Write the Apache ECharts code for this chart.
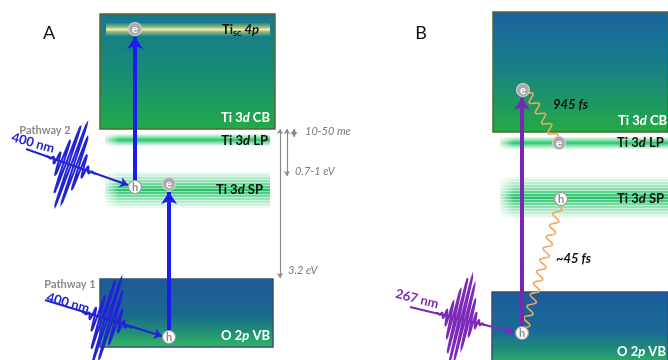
<!DOCTYPE html>
<html>
<head>
<meta charset="utf-8">
<script src="https://cdn.jsdelivr.net/npm/echarts@6/dist/echarts.min.js"></script>
<style>
  html, body { margin: 0; padding: 0; background: #fff; }
  #chart { width: 668px; height: 360px; }
</style>
</head>
<body>
<div id="chart"></div>
<script>
// diagram units = canvas pixels, y grows downward
const panelNames = ['A', 'B'];
const panelLabelPos = [[49, 33], [421, 33]];

// bands: [x0, yTop, x1, yBottom]
const cbBoxes = [[100, 14, 275, 129], [493, 12, 668, 132]];
const vbBoxes = [[100, 279, 273, 347], [492, 292, 668, 365]];
const scBands = [[106, 23, 270, 36]];
const lpBands = [[105, 134, 270, 146], [500, 137, 668, 149]];
const spBands = [[105, 172, 270, 208], [500, 177, 668, 218]];

// carriers
const electrons = [[135, 29], [169, 184], [523, 90], [559, 143]];
const holes = [[135, 187], [169, 337], [561, 199], [522, 333]];

// excitation arrows [x0, y0, x1, y1]
const blueJumps = [[135, 181, 135, 37], [169, 331, 169, 192]];
const violetJumps = [[522, 327, 522, 98]];

// light pulses: beam [x0, y0, x1, y1] and packet centre
const blueBeams = [[26, 149, 128, 185], [45, 300, 162, 336]];
const blueBeamCentres = [[71, 165], [107, 320]];
const violetBeams = [[410, 307, 514, 332]];
const violetBeamCentres = [[461, 319]];

// relaxation (wavy) paths
const relaxPaths = [[528, 93, 556, 139], [559, 206, 525, 328]];

// energy gaps [x, yTop, yBottom]
const gapArrows = [[280, 129, 278], [287, 129, 176], [294, 129, 137]];

const bandLabelsA = [
  [270, 118, 'Ti 3{i|d} CB', 'w'], [268, 141, 'Ti 3{i|d} LP', 'k'],
  [263, 190, 'Ti 3{i|d} SP', 'k'], [270, 336, 'O 2{i|p} VB', 'w']
];
const bandLabelsB = [
  [618, 121, 'Ti 3{i|d} CB', 'w'], [617, 143, 'Ti 3{i|d} LP', 'k'],
  [617, 199, 'Ti 3{i|d} SP', 'k'], [617, 352, 'O 2{i|p} VB', 'w']
];
const scLabel = [[259, 30, 'Ti{s|sc} {i|4p}', 'k']];
const gapLabels = [[305, 131, '10-50 me'], [295, 171, '0.7-1 eV'], [288, 270, '3.2 eV']];
const timeLabels = [[553, 105, '945 fs'], [556, 259, '~45 fs']];
const pathwayLabels = [[45, 130, 'Pathway 2'], [70, 284, 'Pathway 1']];
const blueNmLabels = [[33, 143, '400 nm'], [68, 303, '400 nm']];
const violetNmLabels = [[417, 299, '267 nm']];

const FONT = 'Lato, "Open Sans", sans-serif';
const chart = echarts.init(document.getElementById('chart'));

function boxSeries(data, stops, border) {
  return {
    type: 'custom', silent: true, z: 2,
    data: data,
    renderItem: (params, api) => {
      const p0 = api.coord([api.value(0), api.value(1)]);
      const p1 = api.coord([api.value(2), api.value(3)]);
      return {
        type: 'rect',
        shape: { x: p0[0], y: p0[1], width: p1[0] - p0[0], height: p1[1] - p0[1] },
        style: {
          fill: new echarts.graphic.LinearGradient(0, 0, 0, 1, stops[params.dataIndex]),
          stroke: border, lineWidth: 1.5
        }
      };
    }
  };
}

function glowSeries(data, color, core, striped, edgeFade) {
  return {
    type: 'custom', silent: true, z: 4,
    data: data,
    renderItem: (params, api) => {
      const p0 = api.coord([api.value(0), api.value(1)]);
      const p1 = api.coord([api.value(2), api.value(3)]);
      const w = p1[0] - p0[0], h = p1[1] - p0[1];
      const kids = [{
        type: 'rect',
        shape: { x: p0[0], y: p0[1], width: w, height: h },
        style: {
          fill: new echarts.graphic.LinearGradient(0, 0, 0, 1, [
            { offset: 0, color: 'rgba(' + color + ',0.08)' },
            { offset: 0.3, color: 'rgba(' + color + ',0.6)' },
            { offset: 0.5, color: 'rgba(' + core + ',1)' },
            { offset: 0.7, color: 'rgba(' + color + ',0.6)' },
            { offset: 1, color: 'rgba(' + color + ',0.08)' }
          ])
        }
      }];
      if (striped) {
        for (let y = p0[1] + 1; y < p1[1]; y += 3) {
          kids.push({ type: 'rect', shape: { x: p0[0], y: y, width: w, height: 1 },
            style: { fill: 'rgba(255,255,255,0.45)' } });
        }
      }
      if (edgeFade) {
        kids.push({ type: 'rect', shape: { x: p0[0], y: p0[1], width: 14, height: h },
          style: { fill: new echarts.graphic.LinearGradient(0, 0, 1, 0, [
            { offset: 0, color: 'rgba(255,255,255,0.8)' }, { offset: 1, color: 'rgba(255,255,255,0)' }]) } });
      }
      return { type: 'group', children: kids };
    }
  };
}

function arrowSeries(data, color, width, size, both) {
  return {
    type: 'lines', coordinateSystem: 'cartesian2d', silent: true, z: 8,
    symbol: both ? ['arrow', 'arrow'] : ['none', 'arrow'],
    symbolSize: size,
    lineStyle: { color: color, width: width, opacity: 1 },
    data: data.map(d => ({ coords: [[d[0], d[1]], [d[2], d[3]]] }))
  };
}

function packetSeries(beams, centres, color, wave) {
  return {
    type: 'custom', silent: true, z: 9,
    data: centres,
    renderItem: (params, api) => {
      const b = beams[params.dataIndex];
      const a = api.coord([b[0], b[1]]), e = api.coord([b[2], b[3]]);
      const c = api.coord([api.value(0), api.value(1)]);
      const len = Math.hypot(e[0] - a[0], e[1] - a[1]);
      const dx = (e[0] - a[0]) / len, dy = (e[1] - a[1]) / len;
      const nx = dy, ny = -dx;
      const pts = [];
      for (let t = -26; t <= 26; t += 0.15) {
        const env = Math.exp(-(t / 11) * (t / 11));
        const off = 44 * env * Math.sin(2 * Math.PI * t / wave);
        pts.push([c[0] + dx * t + nx * off, c[1] + dy * t + ny * off]);
      }
      return { type: 'polyline', shape: { points: pts },
        style: { stroke: color, lineWidth: 2, fill: null } };
    }
  };
}

function wavySeries(data, color) {
  return {
    type: 'custom', silent: true, z: 7,
    data: data,
    renderItem: (params, api) => {
      const a = api.coord([api.value(0), api.value(1)]);
      const e = api.coord([api.value(2), api.value(3)]);
      const len = Math.hypot(e[0] - a[0], e[1] - a[1]);
      const dx = (e[0] - a[0]) / len, dy = (e[1] - a[1]) / len;
      const pts = [];
      for (let t = 0; t <= len; t += 0.5) {
        const off = 4 * Math.sin(2 * Math.PI * t / 12);
        pts.push([a[0] + dx * t + dy * off, a[1] + dy * t - dx * off]);
      }
      return { type: 'polyline', shape: { points: pts },
        style: { stroke: color, lineWidth: 1.6, fill: null } };
    }
  };
}

function carrierSeries(data, letter, fill, border, textColor) {
  return {
    type: 'scatter', silent: true, z: 12,
    symbol: 'circle', symbolSize: 13,
    itemStyle: { color: fill, borderColor: border, borderWidth: 1.2, opacity: 1 },
    label: { show: true, position: 'inside', formatter: letter, color: textColor,
      fontFamily: FONT, fontSize: 11, fontWeight: 'bold' },
    data: data
  };
}

function textSeries(items, style, rot) {
  return {
    type: 'custom', silent: true, z: 20,
    data: items.map(d => [d[0], d[1]]),
    renderItem: (params, api) => {
      const p = api.coord([api.value(0), api.value(1)]);
      const it = items[params.dataIndex];
      const st = Object.assign({ text: it[2] }, style);
      if (it[3] === 'w') st.fill = '#ffffff';
      if (it[3] === 'k') st.fill = '#111111';
      const rich = {};
      if (style.rich) {
        Object.keys(style.rich).forEach(k => { rich[k] = Object.assign({ fill: st.fill }, style.rich[k]); });
        st.rich = rich;
      }
      return { type: 'text', x: p[0], y: p[1], rotation: rot || 0, style: st };
    }
  };
}

const bandRich = {
  i: { fontFamily: FONT, fontSize: 13, fontWeight: 'bold', fontStyle: 'italic' },
  s: { fontFamily: FONT, fontSize: 9, fontWeight: 'bold', verticalAlign: 'bottom', padding: [6, 0, 0, 0] }
};

const option = {
  backgroundColor: '#ffffff',
  animation: false,
  grid: { left: 0, right: 0, top: 0, bottom: 0 },
  xAxis: { type: 'value', min: 0, max: 668, show: false },
  yAxis: { type: 'value', min: 0, max: 360, inverse: true, show: false },
  series: [
    boxSeries(cbBoxes, [
      [{ offset: 0, color: '#177790' }, { offset: 0.45, color: '#17897a' }, { offset: 1, color: '#22aa48' }],
      [{ offset: 0, color: '#1a62a2' }, { offset: 0.45, color: '#177f88' }, { offset: 1, color: '#24ab44' }]
    ], '#4d6a2c'),
    boxSeries(vbBoxes, [
      [{ offset: 0, color: '#1e5a98' }, { offset: 0.5, color: '#1a6890' }, { offset: 0.75, color: '#1f8a78' }, { offset: 1, color: '#32b860' }],
      [{ offset: 0, color: '#1c5c9c' }, { offset: 0.55, color: '#1a6b94' }, { offset: 0.78, color: '#1f8c78' }, { offset: 1, color: '#30b862' }]
    ], '#2f5277'),
    glowSeries(scBands, '225,220,120', '240,236,175', false, false),
    glowSeries(lpBands, '40,200,110', '30,200,100', false, true),
    glowSeries(spBands, '50,200,115', '30,195,100', true, true),
    arrowSeries(blueJumps, '#1c1cf0', 4, [11, 12], false),
    arrowSeries(violetJumps, '#7b25b5', 4, [11, 12], false),
    arrowSeries(blueBeams, '#2323d6', 2.2, [7, 8], false),
    arrowSeries(violetBeams, '#7d2ab8', 2.2, [7, 8], false),
    packetSeries(blueBeams, blueBeamCentres, '#2323d6', 5.2),
    packetSeries(violetBeams, violetBeamCentres, '#7d2ab8', 4.2),
    wavySeries(relaxPaths, '#f2a65e'),
    arrowSeries(gapArrows.map(g => [g[0], g[1], g[0], g[2]]), '#8a8a8a', 1.2, [5, 5], true),
    carrierSeries(electrons, 'e', '#aaaaaa', '#d0d0d0', '#ffffff'),
    carrierSeries(holes, 'h', '#ffffff', '#9a9a9a', '#8a8a8a'),
    textSeries(panelNames.map((n, i) => [panelLabelPos[i][0], panelLabelPos[i][1], n]),
      { fill: '#111', fontFamily: FONT, fontSize: 18, align: 'center', verticalAlign: 'middle' }),
    textSeries(bandLabelsA, { fontFamily: FONT, fontSize: 13, fontWeight: 'bold', align: 'right', verticalAlign: 'middle', rich: bandRich }),
    textSeries(bandLabelsB, { fontFamily: FONT, fontSize: 13, fontWeight: 'bold', align: 'left', verticalAlign: 'middle', rich: bandRich }),
    textSeries(scLabel, { fontFamily: FONT, fontSize: 13, fontWeight: 'bold', align: 'right', verticalAlign: 'middle', rich: bandRich }),
    textSeries(gapLabels, { fill: '#7a7a7a', fontFamily: FONT, fontSize: 11, fontStyle: 'italic', align: 'left', verticalAlign: 'middle' }),
    textSeries(timeLabels, { fill: '#111', fontFamily: FONT, fontSize: 13, fontWeight: 'bold', fontStyle: 'italic', align: 'left', verticalAlign: 'middle' }),
    textSeries(pathwayLabels, { fill: '#8a8a8a', fontFamily: FONT, fontSize: 11, fontWeight: 'bold', align: 'center', verticalAlign: 'middle' }),
    textSeries(blueNmLabels, { fill: '#2323d6', fontFamily: FONT, fontSize: 13, fontWeight: 'bold', align: 'center', verticalAlign: 'middle' }, -0.28),
    textSeries(violetNmLabels, { fill: '#7d2ab8', fontFamily: FONT, fontSize: 13, fontWeight: 'bold', align: 'center', verticalAlign: 'middle' }, -0.25)
  ]
};

chart.setOption(option);
</script>
</body>
</html>
